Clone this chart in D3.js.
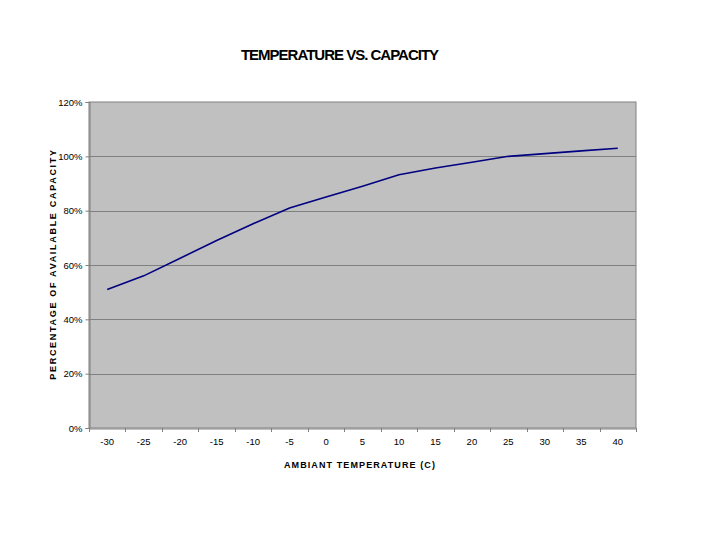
<!DOCTYPE html>
<html><head><meta charset="utf-8">
<script src="https://cdn.jsdelivr.net/npm/d3@7"></script>
<style>body{margin:0;background:#fff;}svg{display:block;font-family:"Liberation Sans",Arial,sans-serif;}</style>
</head><body>
<svg id="c" width="720" height="540"></svg>
<script>
const categories = [-30,-25,-20,-15,-10,-5,0,5,10,15,20,25,30,35,40];
const capacity = [0.51,0.56,0.625,0.69,0.752,0.81,0.85,0.89,0.932,0.957,0.978,1.0,1.01,1.02,1.03];
const yTicks = [0,0.2,0.4,0.6,0.8,1.0,1.2];
const title = "TEMPERATURE VS. CAPACITY";
const xTitle = "AMBIANT TEMPERATURE (C)";
const yTitle = "PERCENTAGE OF AVAILABLE CAPACITY";

const svg = d3.select("#c");
const L=89, R=636, T=102, B=428;
const x = d3.scaleBand().domain(categories).range([L,R]);
const y = d3.scaleLinear().domain([0,1.2]).range([B,T]);

svg.append("rect").attr("x",L).attr("y",T).attr("width",R-L).attr("height",B-T)
  .attr("fill","#c0c0c0").attr("stroke","#808080").attr("stroke-width",1);

svg.append("g").selectAll("line").data(yTicks.slice(1,-1)).join("line")
  .attr("x1",L).attr("x2",R).attr("y1",d=>Math.round(y(d))+0.5).attr("y2",d=>Math.round(y(d))+0.5)
  .attr("stroke","#808080").attr("stroke-width",1);

const ya = svg.append("g").attr("transform",`translate(${L+0.5},0)`)
  .call(d3.axisLeft(y).tickValues(yTicks).tickFormat(d3.format(".0%")).tickSize(4).tickPadding(3));
ya.select(".domain").attr("stroke","#808080");
ya.selectAll(".tick line").attr("stroke","#808080");
ya.selectAll("text").attr("font-size",9.5).attr("fill","#000").style("font-family","Liberation Sans, Arial, sans-serif");

const xa = svg.append("g").attr("transform",`translate(0,${B+0.5})`)
  .call(d3.axisBottom(x).tickSize(0).tickPadding(10));
xa.select(".domain").attr("stroke","#808080");
xa.selectAll("text").attr("font-size",9.5).attr("fill","#000").style("font-family","Liberation Sans, Arial, sans-serif");
svg.append("g").selectAll("line").data(categories.concat([null])).join("line")
  .attr("x1",(d,i)=>Math.round(L+i*x.step())+0.5).attr("x2",(d,i)=>Math.round(L+i*x.step())+0.5)
  .attr("y1",B).attr("y2",B+4).attr("stroke","#808080");

const line = d3.line().x((d,i)=>x(categories[i])+x.bandwidth()/2).y(d=>y(d));
svg.append("path").datum(capacity).attr("d",line).attr("fill","none")
  .attr("stroke","#000080").attr("stroke-width",1.6);

svg.append("text").attr("x",339.5).attr("y",60).attr("text-anchor","middle")
  .attr("font-size",15).attr("font-weight","bold").attr("letter-spacing",-1).text(title);
svg.append("text").attr("x",360).attr("y",468).attr("text-anchor","middle")
  .attr("font-size",9).attr("font-weight","bold").attr("letter-spacing",1.1).text(xTitle);
svg.append("text").attr("transform","translate(56,264) rotate(-90)").attr("text-anchor","middle")
  .attr("font-size",9).attr("font-weight","bold").attr("letter-spacing",1.7).text(yTitle);
</script>
</body></html>
